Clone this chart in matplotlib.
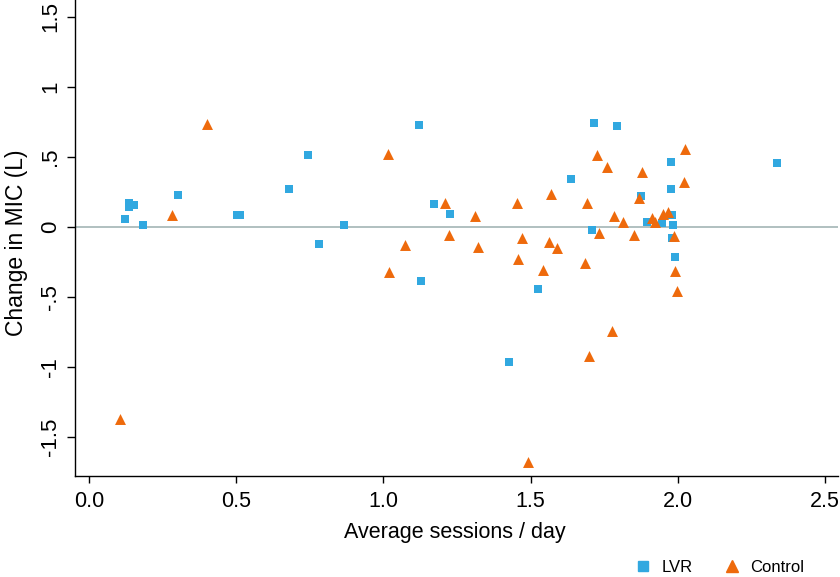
import matplotlib
matplotlib.use("Agg")
import matplotlib.pyplot as plt
from matplotlib.lines import Line2D

plt.rcParams['font.family'] = ['Liberation Sans', 'DejaVu Sans']

# LVR group (squares)
lvr_x = [0.137, 0.152, 0.137, 0.121, 0.184, 0.303, 0.502, 0.511, 0.680, 0.742,
         0.782, 0.865, 1.122, 1.128, 1.170, 1.227, 1.425, 1.526, 1.638, 1.710,
         1.714, 1.793, 1.875, 1.895, 1.946, 1.976, 1.977, 1.980, 1.984, 1.979,
         1.990, 2.337]
lvr_y = [0.170, 0.160, 0.140, 0.055, 0.016, 0.229, 0.084, 0.088, 0.271, 0.512,
         -0.124, 0.014, 0.729, -0.386, 0.162, 0.095, -0.962, -0.440, 0.340, -0.019,
         0.741, 0.721, 0.219, 0.036, 0.031, 0.464, 0.269, 0.088, 0.017, -0.079,
         -0.216, 0.460]

# Control group (triangles)
ctl_x = [0.104, 0.280, 0.402, 1.015, 1.018, 1.073, 1.210, 1.223, 1.312, 1.320,
         1.454, 1.456, 1.472, 1.490, 1.542, 1.561, 1.570, 1.590, 1.684, 1.690,
         1.697, 1.727, 1.731, 1.758, 1.777, 1.784, 1.814, 1.851, 1.868, 1.877,
         1.913, 1.921, 1.950, 1.968, 1.988, 1.990, 1.997, 2.020, 2.023]
ctl_y = [-1.370, 0.086, 0.736, 0.519, -0.319, -0.129, 0.169, -0.057, 0.076, -0.140,
         0.171, -0.231, -0.079, -1.676, -0.305, -0.105, 0.236, -0.148, -0.260, 0.169,
         -0.921, 0.514, -0.040, 0.426, -0.740, 0.079, 0.033, -0.055, 0.209, 0.393,
         0.062, 0.036, 0.093, 0.107, -0.062, -0.314, -0.457, 0.324, 0.557]

xticks = [0.0, 0.5, 1.0, 1.5, 2.0, 2.5]
xtick_labels = ["0.0", "0.5", "1.0", "1.5", "2.0", "2.5"]
yticks = [-1.5, -1, -0.5, 0, 0.5, 1, 1.5]
ytick_labels = ["-1.5", "-1", "-.5", "0", ".5", "1", "1.5"]

blue = "#31a8e0"
orange = "#ee6a0c"

fig = plt.figure(figsize=(8.4, 5.77), dpi=100)
ax = fig.add_axes([0.0893, 0.175, 0.9083, 0.825])

ax.axhline(0, color="#a3b5b5", lw=1.2, zorder=1)
ax.scatter(lvr_x, lvr_y, marker="s", s=40, color=blue, linewidths=0, zorder=3)
ax.scatter(ctl_x, ctl_y, marker="^", s=62, color=orange, linewidths=0, zorder=3)

ax.set_xlim(-0.048, 2.544)
ax.set_ylim(-1.779, 1.621)
ax.set_xticks(xticks)
ax.set_xticklabels(xtick_labels)
ax.set_yticks(yticks)
ax.set_yticklabels(ytick_labels, rotation=90, va="center")

for s in ["top", "right"]:
    ax.spines[s].set_visible(False)
ax.spines["left"].set_linewidth(1.0)
ax.spines["bottom"].set_linewidth(1.0)
ax.tick_params(axis="x", direction="out", length=5, width=1, labelsize=15.5, pad=6)
ax.tick_params(axis="y", direction="out", length=6, width=1, labelsize=16, pad=4)

ax.set_xlabel("Average sessions / day", fontsize=15.5)
ax.set_ylabel("Change in MIC (L)", fontsize=16.5)
ax.xaxis.set_label_coords(0.498, -0.097)
ax.yaxis.set_label_coords(-0.062, 0.49)

handles = [
    Line2D([], [], marker="s", ls="", color=blue, markersize=6.5, label="LVR"),
    Line2D([], [], marker="^", ls="", color=orange, markersize=8, label="Control"),
]
fig.legend(handles=handles, loc="center", bbox_to_anchor=(0.8564, 0.0173), ncol=2,
           frameon=False, fontsize=12, handletextpad=0.6, columnspacing=1.84,
           handlelength=1.0, borderpad=0.2)

fig.savefig("out.png", dpi=100)
